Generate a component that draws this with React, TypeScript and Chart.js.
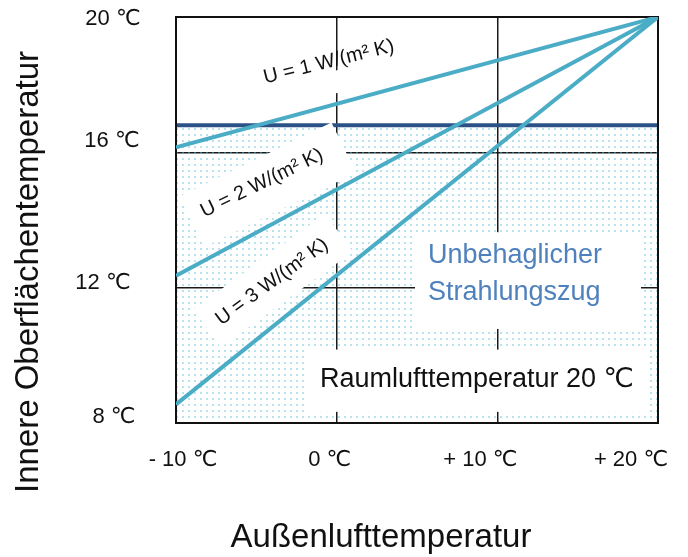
import React, { useEffect, useRef } from 'react';
import { Chart, registerables } from 'chart.js';

Chart.register(...registerables);

// ---------- data ----------
const outdoorTemps = [-10, 20];
const surfaceU1 = [16.15, 20];
const surfaceU2 = [12.35, 20];
const surfaceU3 = [8.55, 20];
const comfortLimit = [16.8, 16.8];

const xTickValues = [-10, 0, 10, 20];
const xTickLabels = ['- 10 ℃', '0 ℃', '+ 10 ℃', '+ 20 ℃'];
const yTickValues = [20, 16, 12, 8];
const yTickLabels = ['20 ℃', '16 ℃', '12 ℃', '8 ℃'];

const xTitle = 'Außenlufttemperatur';
const yTitle = 'Innere Oberflächentemperatur';
const uLabels = ['U = 1 W/(m² K)', 'U = 2 W/(m² K)', 'U = 3 W/(m² K)'];
const zoneLabel = ['Unbehaglicher', 'Strahlungszug'];
const roomLabel = 'Raumlufttemperatur 20 ℃';

// ---------- styles ----------
const FONT = '"Liberation Sans", Arial, "DejaVu Sans", sans-serif';
const LINE_BLUE = '#4bacc6';
const DARK_BLUE = '#2a5287';
const ZONE_BLUE = '#4f81bd';

// tick label nudges (px) relative to the scale positions
const xTickNudge = [7, -7, -17, -27];
const yTickNudge = [[-63, 2], [-64, -11], [-73, -5], [-62, -6]];

// rotated U labels: anchor in data units, angle, white box extents (px, local)
const uLabelStyle = [
  { x: -0.48, y: 18.67, angle: -14, box: { l: -75, r: 80, t: 10, b: 32 } },
  { x: -4.65, y: 15.09, angle: -26, box: { l: -80, r: 89, t: -24, b: 32 } },
  { x: -4.02, y: 12.17, angle: -36, box: { l: -80, r: 83, t: -24, b: 23 } },
];
const zoneBox = { x1: 4.875, x2: 18.94, y1: 13.64, y2: 10.78, tx: 5.68, ty1: 12.73, ty2: 11.64 };
const roomBox = { x1: -1.85, x2: 19.5, y1: 10.17, y2: 8.33, tx: -1.04, ty: 9.07 };

function makeDotPattern(ctx: CanvasRenderingContext2D) {
  const c = document.createElement('canvas');
  c.width = 6;
  c.height = 6;
  const g = c.getContext('2d')!;
  g.fillStyle = 'rgba(100,190,220,0.45)';
  g.fillRect(2, 2, 2, 2);
  return ctx.createPattern(c, 'repeat');
}

const pts = (ys: number[]) => outdoorTemps.map((x, i) => ({ x, y: ys[i] }));

const DARK_INDEX = 3;

const overlayPlugin = {
  id: 'overlay',
  afterDatasetDraw(chart: any, args: any) {
    if (args.index !== DARK_INDEX) return;
    const ctx: CanvasRenderingContext2D = chart.ctx;
    const xs = chart.scales.x;
    const ys = chart.scales.y;
    ctx.save();
    ctx.fillStyle = '#ffffff';
    uLabelStyle.forEach((s) => {
      const px = xs.getPixelForValue(s.x);
      const py = ys.getPixelForValue(s.y);
      ctx.save();
      ctx.translate(px, py);
      ctx.rotate((s.angle * Math.PI) / 180);
      ctx.fillRect(s.box.l, s.box.t, s.box.r - s.box.l, s.box.b - s.box.t);
      ctx.restore();
    });
    for (const b of [zoneBox, roomBox]) {
      const x1 = xs.getPixelForValue(b.x1);
      const x2 = xs.getPixelForValue(b.x2);
      const y1 = ys.getPixelForValue(b.y1);
      const y2 = ys.getPixelForValue(b.y2);
      ctx.fillRect(x1, y1, x2 - x1, y2 - y1);
    }
    const a = chart.chartArea;
    ctx.strokeStyle = '#111111';
    ctx.lineWidth = 2;
    ctx.strokeRect(a.left, a.top, a.right - a.left, a.bottom - a.top);
    ctx.restore();
  },
  afterDraw(chart: any) {
    const ctx: CanvasRenderingContext2D = chart.ctx;
    const xs = chart.scales.x;
    const ys = chart.scales.y;
    const a = chart.chartArea;
    ctx.save();
    ctx.fillStyle = '#111111';
    // tick labels
    ctx.font = `22px ${FONT}`;
    ctx.textAlign = 'center';
    ctx.textBaseline = 'middle';
    xTickValues.forEach((v, i) => {
      ctx.fillText(xTickLabels[i], xs.getPixelForValue(v) + xTickNudge[i], a.bottom + 37);
    });
    yTickValues.forEach((v, i) => {
      ctx.fillText(yTickLabels[i], a.left + yTickNudge[i][0], ys.getPixelForValue(v) + yTickNudge[i][1]);
    });
    // axis titles
    ctx.font = `33px ${FONT}`;
    ctx.textBaseline = 'alphabetic';
    ctx.fillText(xTitle, 381, 547);
    ctx.save();
    ctx.translate(38, 272);
    ctx.rotate(-Math.PI / 2);
    ctx.fillText(yTitle, 0, 0);
    ctx.restore();
    // U labels
    ctx.font = `20px ${FONT}`;
    ctx.textBaseline = 'middle';
    uLabelStyle.forEach((s, i) => {
      ctx.save();
      ctx.translate(xs.getPixelForValue(s.x), ys.getPixelForValue(s.y));
      ctx.rotate((s.angle * Math.PI) / 180);
      ctx.fillText(uLabels[i], 0, 0);
      ctx.restore();
    });
    // zone label
    ctx.textAlign = 'left';
    ctx.textBaseline = 'alphabetic';
    ctx.font = `27px ${FONT}`;
    ctx.fillStyle = ZONE_BLUE;
    ctx.fillText(zoneLabel[0], xs.getPixelForValue(zoneBox.tx), ys.getPixelForValue(zoneBox.ty1));
    ctx.fillText(zoneLabel[1], xs.getPixelForValue(zoneBox.tx), ys.getPixelForValue(zoneBox.ty2));
    // room label
    ctx.fillStyle = '#111111';
    ctx.font = `27px ${FONT}`;
    ctx.fillText(roomLabel, xs.getPixelForValue(roomBox.tx), ys.getPixelForValue(roomBox.ty));
    ctx.restore();
  },
};

export default function App() {
  const ref = useRef<HTMLCanvasElement>(null);
  useEffect(() => {
    document.body.style.margin = '0';
    const canvas = ref.current!;
    const ctx = canvas.getContext('2d')!;
    const pattern = makeDotPattern(ctx);
    const gridStyle = { color: '#1a1a1a', lineWidth: 1.5, drawTicks: false };
    const chart = new Chart(canvas, {
      type: 'line',
      data: {
        datasets: [
          { label: uLabels[0], data: pts(surfaceU1), borderColor: LINE_BLUE, borderWidth: 4, pointRadius: 0, fill: false, order: 0 },
          { label: uLabels[1], data: pts(surfaceU2), borderColor: LINE_BLUE, borderWidth: 4, pointRadius: 0, fill: false, order: 0 },
          { label: uLabels[2], data: pts(surfaceU3), borderColor: LINE_BLUE, borderWidth: 4, pointRadius: 0, fill: false, order: 0 },
          {
            label: 'Grenze',
            data: pts(comfortLimit),
            borderColor: DARK_BLUE,
            borderWidth: 4,
            pointRadius: 0,
            fill: 'start',
            backgroundColor: pattern as any,
            order: 10,
          },
        ],
      },
      options: {
        animation: false,
        responsive: false,
        devicePixelRatio: 1,
        events: [],
        layout: { padding: { left: 176, top: 17, right: 30, bottom: 134 } },
        plugins: { legend: { display: false }, tooltip: { enabled: false }, title: { display: false } },
        scales: {
          x: {
            type: 'linear',
            min: -10,
            max: 20,
            ticks: { display: false, stepSize: 10 },
            grid: gridStyle,
            border: { display: false },
            afterFit: (s: any) => { s.height = 0; },
          },
          y: {
            type: 'linear',
            min: 8,
            max: 20,
            ticks: { display: false, stepSize: 4 },
            grid: gridStyle,
            border: { display: false },
            afterFit: (s: any) => { s.width = 0; },
          },
        },
      } as any,
      plugins: [overlayPlugin],
    });
    return () => chart.destroy();
  }, []);
  return (
    <div style={{ width: 688, height: 557 }}>
      <canvas ref={ref} width={688} height={557} style={{ display: 'block' }} />
    </div>
  );
}
